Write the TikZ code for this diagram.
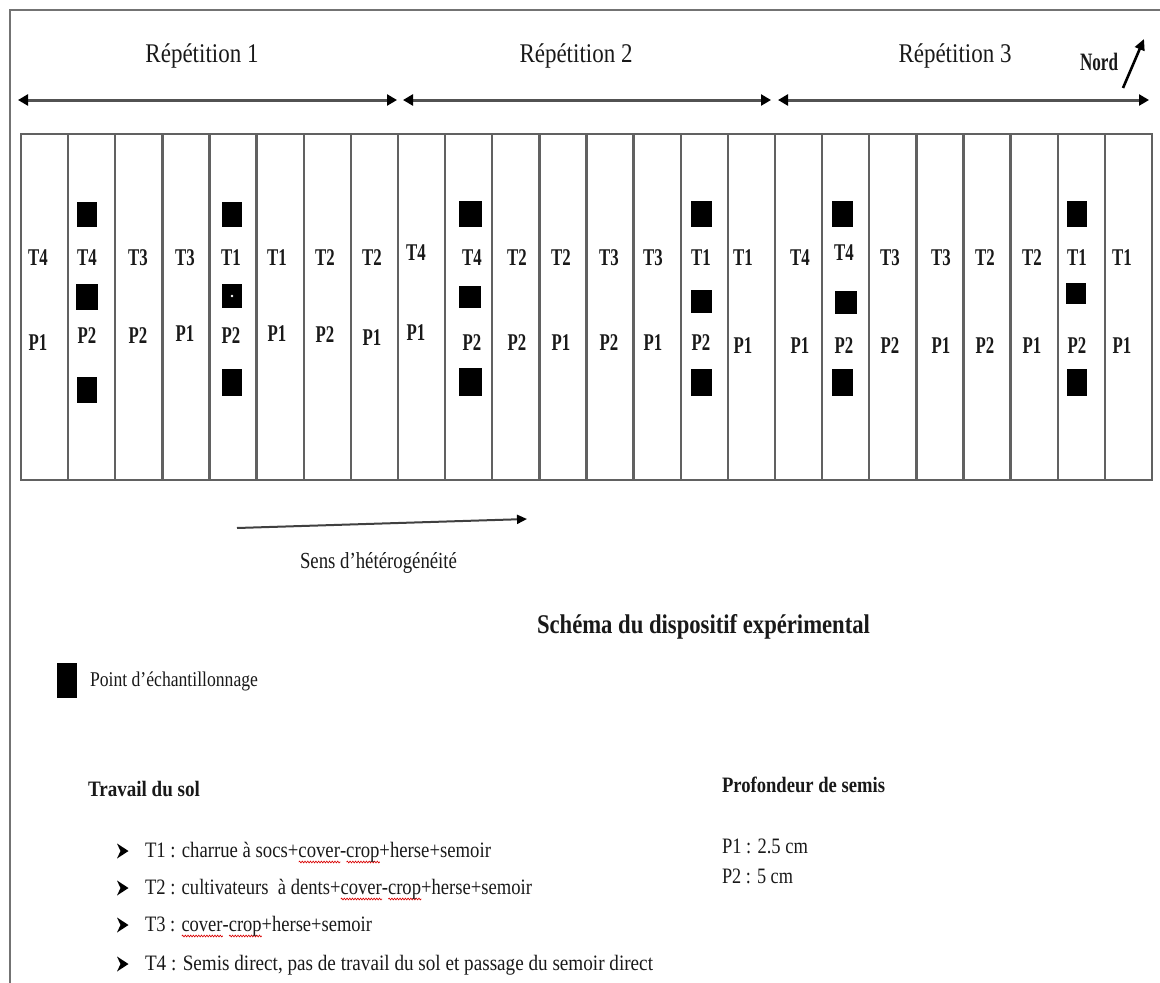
\documentclass[tikz,border=0pt]{standalone}
\usepackage{fontspec}
\setmainfont{Liberation Serif}
\usepackage{graphicx}
\usetikzlibrary{arrows.meta,decorations.pathmorphing}
% red wavy underline (spell-check mark) under a word
\newsavebox\wbox
\newcommand\rwave[1]{\sbox\wbox{#1}\rlap{\raisebox{-5pt}[0pt][0pt]{\tikz[baseline=0pt]\draw[red!85!black, line width=0.7pt, decorate, decoration={snake,amplitude=0.9pt,segment length=3.2pt}] (0pt,0pt) -- (\the\wd\wbox,0pt);}}\usebox\wbox}
% text set at a given size and squeezed to a given width
\newcommand\fitw[3]{\resizebox{#1pt}{\height}{\fontsize{#2}{#2}\selectfont #3}}
% plot labels
\newcommand\plotlab[1]{\scalebox{0.7}[1]{\fontsize{24}{24}\selectfont\bfseries #1}}
\tikzset{
  frame/.style={draw=black!55, line width=1.6pt},
  col/.style={draw=black!62, line width=2.3pt, minimum width=47.125pt, minimum height=346pt, inner sep=0pt, outer sep=0pt},
  txt/.style={inner sep=0pt, outer sep=0pt, text=black!90},
  lab/.style={inner sep=0pt, outer sep=0pt, text=black!90},
  sq/.style={fill=black, draw=none, inner sep=0pt, outer sep=0pt},
  reparrow/.style={draw=black!68, line width=3pt, {Triangle[length=10pt,width=11pt,color=black]}-{Triangle[length=10pt,width=11pt,color=black]}},
  nordarrow/.style={draw=black, line width=2.6pt, -{Triangle[length=11pt,width=10pt]}},
  hetarrow/.style={draw=black!75, line width=2pt, -{Triangle[length=10pt,width=9pt,color=black]}},
}
\begin{document}
\begin{tikzpicture}[x=1pt, y=-1pt]
\useasboundingbox (0,0) rectangle (1160,983);

% page frame
\draw[frame] (10,983) -- (10,10) -- (1160,10);

% headings of the three repetitions
\node[txt, anchor=base] (rep1) at (202,62) {\fitw{113}{27}{Répétition 1}};
\node[txt, anchor=base] (rep2) at (576,62) {\fitw{113}{27}{Répétition 2}};
\node[txt, anchor=base] (rep3) at (955,62) {\fitw{113}{27}{Répétition 3}};

% extent of each repetition
\coordinate (r1a) at (18,100);  \coordinate (r1b) at (397,100);
\coordinate (r2a) at (403,100); \coordinate (r2b) at (771,100);
\coordinate (r3a) at (778,100); \coordinate (r3b) at (1149,100);
\draw[reparrow] (r1a) -- (r1b);
\draw[reparrow] (r2a) -- (r2b);
\draw[reparrow] (r3a) -- (r3b);

% north
\node[txt, anchor=base west] (nord) at (1080,70) {\fitw{38}{25}{\bfseries Nord}};
\coordinate (n0) at (1123,88);
\coordinate (n1) at (1144,39);
\draw[nordarrow] (n0) -- (n1);

% the 24 elementary plots
\foreach \i in {1,...,24}
  \node[col] (c\i) at ({21+(\i-0.5)*47.125},307) {};

% treatment / depth of each plot
\foreach \xx/\tname/\pname/\ty/\py [count=\k] in {
  38/T4/P1/265/350, 87/T4/P2/265/343, 138/T3/P2/265/343, 185/T3/P1/265/341,
  231/T1/P2/265/343, 277/T1/P1/265/341, 325/T2/P2/265/342, 372/T2/P1/265/345,
  416/T4/P1/260/340, 472/T4/P2/265/350, 517/T2/P2/265/350, 561/T2/P1/265/350,
  609/T3/P2/265/350, 653/T3/P1/265/350, 701/T1/P2/265/350, 743/T1/P1/265/353,
  800/T4/P1/265/353, 844/T4/P2/260/353, 890/T3/P2/265/353, 941/T3/P1/265/353,
  985/T2/P2/265/353, 1032/T2/P1/265/353, 1077/T1/P2/265/353, 1122/T1/P1/265/353}
{
  \node[lab, anchor=base] (t\k) at (\xx,\ty) {\plotlab{\tname}};
  \node[lab, anchor=base] (p\k) at (\xx,\py) {\plotlab{\pname}};
}

% sampling points
\foreach \xx/\yy/\ww/\hh [count=\k] in {
  87/214/20/25, 87/297/22/26, 87/390/20/26,
  232/214/20/25, 232/296/20/24, 232/382/20/27,
  470/214/23/26, 470/297/22/22, 470/382/23/28,
  701.5/214/21/26, 701.5/301/21/23, 701.5/382/21/27,
  842.5/214/21/26, 846/302/22/23, 842/382/21/27,
  1077/214/20/26, 1076/293/20/21, 1077/382/20/27}
  \node[sq, minimum width=\ww pt, minimum height=\hh pt] (s\k) at (\xx,\yy) {};
\fill[white] (s5.center) circle (1.3pt);

% direction of heterogeneity
\coordinate (h0) at (237,528);
\coordinate (h1) at (527,519);
\draw[hetarrow] (h0) -- (h1);
\node[txt, anchor=base west] (sens) at (300,568) {\fitw{157}{23}{Sens d’hétérogénéité}};

% title
\node[txt, anchor=base west] (title) at (537,633) {\fitw{333}{27}{\bfseries Schéma du dispositif expérimental}};

% legend
\node[sq, minimum width=20pt, minimum height=35pt] (legsq) at (67,680.5) {};
\node[txt, anchor=base west] (legtxt) at (90,686) {\fitw{168}{21}{Point d’échantillonnage}};

% soil tillage treatments
\node[txt, anchor=base west] (trav) at (88,796) {\fitw{112}{22}{\bfseries Travail du sol}};
\foreach \yy/\ww/\line [count=\k] in {
  857/346/{T1 : charrue à socs+\rwave{cover}-\rwave{crop}+herse+semoir},
  894/387/{T2 : cultivateurs~ à dents+\rwave{cover}-\rwave{crop}+herse+semoir},
  931/227/{T3 : \rwave{cover}-\rwave{crop}+herse+semoir},
  970/508/{T4 : Semis direct, pas de travail du sol et passage du semoir direct}}
{
  \fill[black] (117,\yy-13.5) -- (128.5,\yy-6) -- (117,\yy+1.5) -- (120.5,\yy-6) -- cycle;
  \node[txt, anchor=base west] (li\k) at (145,\yy) {\fitw{\ww}{22}{\line}};
}

% sowing depth
\node[txt, anchor=base west] (prof) at (722,792) {\fitw{163}{22}{\bfseries Profondeur de semis}};
\node[txt, anchor=base west] (pone) at (722,853) {\fitw{86}{22}{P1 : 2.5 cm}};
\node[txt, anchor=base west] (ptwo) at (722,883) {\fitw{71}{22}{P2 : 5 cm}};
\end{tikzpicture}
\end{document}
